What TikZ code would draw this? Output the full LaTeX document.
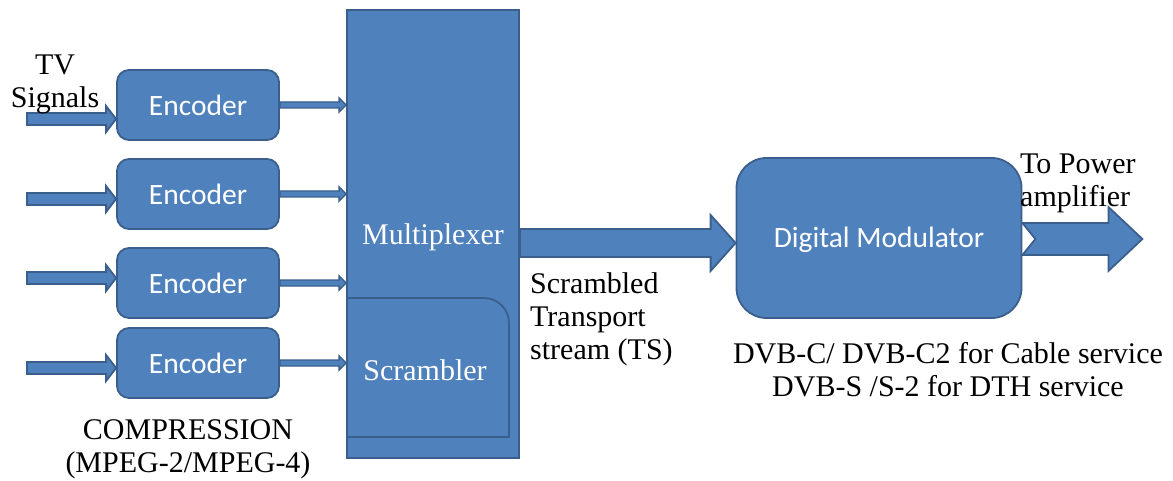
\documentclass[tikz,border=0pt]{standalone}
\usepackage{fontspec}
\setmainfont{Liberation Serif}
\newfontfamily\calibri{Carlito}
\usetikzlibrary{calc}
\definecolor{boxblue}{HTML}{4F81BD}
\definecolor{edgeblue}{HTML}{3A5F8C}

\begin{document}
\begin{tikzpicture}[x=1pt,y=-1pt]
    \tikzstyle{block} = [
      rectangle,
      draw=edgeblue,
      fill=boxblue,
      line width=1.8pt,
      text=white,
      align=center,
    ]
    \tikzstyle{enc} = [
      block,
      rounded corners=12pt,
      minimum width=162pt,
      minimum height=70pt,
      font=\calibri\fontsize{29.5}{34}\selectfont,
    ]
    \tikzstyle{blockarrow} = [
      draw=edgeblue,
      fill=boxblue,
      line width=1.8pt,
      line join=miter,
    ]
    \tikzstyle{lbl} = [
      inner sep=0pt,
      font=\fontsize{30}{33}\selectfont,
    ]

    % from, to, shaft half width, head half width, head length
    \newcommand{\fatarrow}[6][]{\draw[blockarrow,#1] ($(#2)+(0,#4)$) -- ($(#3)+(-#6,#4)$) -- ($(#3)+(-#6,#5)$) -- (#3) -- ($(#3)+(-#6,-#5)$) -- ($(#3)+(-#6,-#4)$) -- ($(#2)+(0,-#4)$) -- cycle;}

    \useasboundingbox (0,0) rectangle (1173,481);

    \node[enc] (encI) at (198,105) {Encoder};
    \node[enc] (encII) at (198,194) {Encoder};
    \node[enc] (encIII) at (198,283) {Encoder};
    \node[enc] (encIV) at (198,363) {Encoder};

    \node[block,minimum width=172pt,minimum height=448pt] (mux) at (433,234) {};
    \node[lbl,text=white] (muxname) at (433,237) {Multiplexer};
    \draw[draw=edgeblue,line width=1.8pt] (mux.west |- 0,298) -- (484,298) arc (-90:0:25) -- (509,437) -- (mux.west |- 0,437);
    \node[lbl,text=white] (scr) at (425,370) {Scrambler};

    \node[block,rounded corners=30pt,minimum width=285pt,minimum height=160pt] (mod) at (879,238) {};
    \node[lbl,text=white,font=\calibri\fontsize{29.5}{34}\selectfont] (modname) at (879,240) {Digital Modulator};

    % TV inputs
    \coordinate (tvI) at (27,119);
    \coordinate (tvII) at (27,199);
    \coordinate (tvIII) at (27,278);
    \coordinate (tvIV) at (27,368);
    \foreach \n in {I,II,III,IV} {
      \coordinate (in\n) at (enc\n.west |- tv\n);
      \fatarrow{tv\n}{in\n}{6}{13}{10}
      \coordinate (mx\n) at (mux.west |- enc\n.east);
      \fatarrow[line width=1.3pt]{enc\n.east}{mx\n}{3}{7}{7}
    }

    % transport stream
    \coordinate (tsFrom) at ([yshift=-9pt]mux.east);
    \coordinate (tsTo) at (mod.west |- tsFrom);
    \fatarrow{tsFrom}{tsTo}{14}{28}{25}

    % to the amplifier, notched tail
    \coordinate (paFrom) at ([yshift=-1pt]mod.east);
    \coordinate (paTo) at ([xshift=120pt]paFrom);
    \draw[blockarrow] ($(paFrom)+(0,16)$) -- ($(paTo)+(-34,16)$) -- ($(paTo)+(-34,32)$) -- (paTo) -- ($(paTo)+(-34,-32)$) -- ($(paTo)+(-34,-16)$) -- ($(paFrom)+(0,-16)$) -- ($(paFrom)+(13,0)$) -- cycle;

    \node[lbl,align=center] (tv) at (55,84) {TV\\Signals};
    \node[lbl,align=left,anchor=west] (pa) at (1020,183) {To Power\\amplifier};
    \node[lbl,align=left,anchor=west] (ts) at (530,319) {Scrambled\\Transport\\stream (TS)};
    \node[lbl,align=center] (dvb) at (948,370) {DVB-C/ DVB-C2 for Cable service\\DVB-S /S-2 for DTH service};
    \node[lbl,align=center] (comp) at (188,449) {COMPRESSION\\(MPEG-2/MPEG-4)};
\end{tikzpicture}
\end{document}
